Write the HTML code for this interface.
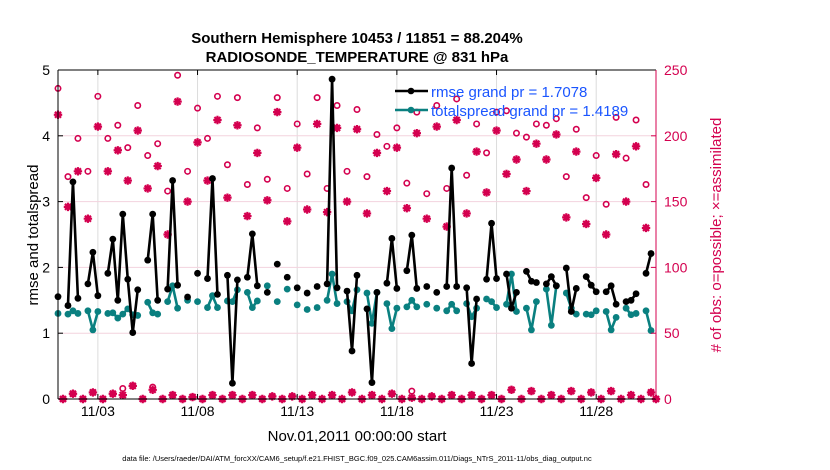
<!DOCTYPE html>
<html><head><meta charset="utf-8"><style>
html,body{margin:0;padding:0;background:#fff;}
svg{display:block;font-family:"Liberation Sans",sans-serif;}
</style></head><body>
<svg id="chart" width="830" height="470" viewBox="0 0 830 470">
<text x="357" y="43" text-anchor="middle" font-size="15" font-weight="bold">Southern Hemisphere 10453 / 11851 = 88.204%</text>
<text x="357" y="62" text-anchor="middle" font-size="15" font-weight="bold">RADIOSONDE_TEMPERATURE @ 831 hPa</text>
<g id="grid"></g>
<g id="counts"></g>
<g id="lines"></g>
<g id="axes"></g>
<text transform="translate(38,235) rotate(-90)" text-anchor="middle" font-size="15">rmse and totalspread</text>
<text transform="translate(721,235) rotate(-90)" text-anchor="middle" font-size="15" fill="#d4004f"># of obs: o=possible; ×=assimilated</text>
<text x="357" y="441" text-anchor="middle" font-size="15">Nov.01,2011 00:00:00 start</text>
<text x="357" y="461" text-anchor="middle" font-size="7.5">data file: /Users/raeder/DAI/ATM_forcXX/CAM6_setup/f.e21.FHIST_BGC.f09_025.CAM6assim.011/Diags_NTrS_2011-11/obs_diag_output.nc</text>
<g>
<line x1="395" y1="91" x2="428" y2="91" stroke="#000" stroke-width="2.5"/>
<circle cx="411" cy="91" r="3.3" fill="#000"/>
<text x="431" y="97" font-size="15" fill="#1a55ff">rmse grand pr = 1.7078</text>
<line x1="395" y1="110" x2="428" y2="110" stroke="#0a8080" stroke-width="2.5"/>
<circle cx="411" cy="110" r="3.3" fill="#0a8080"/>
<text x="431" y="116" font-size="15" fill="#1a55ff">totalspread grand pr = 1.4189</text>
</g>
</svg>
<script>
const xTickLabels = ["11/03","11/08","11/13","11/18","11/23","11/28"];
const xTickDays = [2,7,12,17,22,27];
const yTicks = [0,1,2,3,4,5];
const rTicks = [0,50,100,150,200,250];
const N = null;
const rmse = [1.555,N,1.42,3.30,1.53,N,1.75,2.23,1.57,N,1.91,2.43,1.50,2.81,1.82,1.01,1.66,N,2.11,2.81,1.50,N,1.67,3.32,1.73,N,1.55,N,1.91,N,
1.83,3.35,1.59,N,1.88,0.24,1.81,N,1.85,2.51,1.72,N,1.62,N,2.05,N,1.85,N,1.69,N,1.61,N,1.71,N,1.75,4.86,1.69,N,1.64,0.73,
1.88,N,1.37,0.25,1.62,N,1.76,2.44,1.68,N,1.95,2.49,1.68,N,1.71,N,1.62,N,1.71,3.51,1.71,N,1.69,0.54,1.52,N,1.82,2.67,1.83,N,
1.90,1.38,1.62,N,1.94,1.79,1.77,N,1.75,1.86,1.72,N,1.99,1.33,1.68,N,1.86,1.73,1.63,N,1.63,1.72,1.44,N,1.48,1.50,1.60,N,1.91,2.21,N];
const spread = [1.30,N,1.29,1.34,1.30,N,1.34,1.05,1.33,N,1.30,1.31,1.23,1.29,1.37,1.28,1.27,N,1.47,1.31,1.29,N,1.48,1.72,1.38,N,1.50,N,1.48,N,
1.39,1.57,1.39,N,1.49,1.48,1.66,N,1.62,1.39,1.49,N,1.72,N,1.48,N,1.67,N,1.43,N,1.36,N,1.39,N,1.50,1.90,1.45,N,1.48,1.34,
1.66,N,1.61,1.15,1.62,N,1.45,1.07,1.38,N,1.40,1.50,1.40,N,1.44,N,1.38,N,1.34,1.44,1.34,N,1.45,1.25,1.38,N,1.52,1.48,1.39,N,
1.44,1.90,1.33,N,1.38,1.05,1.48,N,1.67,1.12,1.72,N,1.61,1.38,1.29,N,1.29,1.28,1.34,N,1.33,1.05,1.24,N,1.38,1.28,1.30,N,1.34,1.04,N];
const possible = [236,0,169,4,198,0,173,5,230,0,198,4,208,8,191,10,223,0,185,9,194,0,158,3,246,0,173,1.5,221,0,
198,3,230,0,178,3,229,0,163,3,206,0,167,2,229,0,160,2,209,0,171,3,229,0,160,3,223,0,173,5,
220,0,169,3,201,0,192,4,206,0,164,6,218,0,156,2,223,0,160,3,228,0,170,3,209,0,187,3,218,0,
219,7,202,0,199,6,209,0,208,3,213,0,169,6,205,0,153,5,185,0,148,6,214,0,183,3,212,0,163,5,0];
const assimilated = [216,0,146,4,173,0,137,5,207,0,173,4,189,3,166,10,204,0,160,7,177,0,125,3,226,0,150,1.5,195,0,
166,3,212,0,153,3,208,0,139,3,187,0,151,2,218,0,135,2,191,0,144,3,209,0,142,3,206,0,150,5,
205,0,141,3,187,0,158,4,191,0,145,1,202,0,137,2,207,0,131,3,212,0,141,3,188,0,157,3,204,0,
171,7,182,0,158,6,194,0,182,3,201,0,138,6,188,0,133,5,168,0,125,6,186,0,150,3,192,0,130,5,0];
const stepDays = 0.25;

const NS="http://www.w3.org/2000/svg";
const X0=58, X1=656, Y0=399, Y1=70;
const x = d => X0 + d*(X1-X0)/30;
const yL = v => Y0 - v*(Y0-Y1)/5;
const yR = v => Y0 - v*(Y0-Y1)/250;
const PINK="#d4004f", TEAL="#0a8080";
function mk(tag, attrs, parent){const e=document.createElementNS(NS,tag);for(const k in attrs)e.setAttribute(k,attrs[k]);parent.appendChild(e);return e;}
const grid=document.getElementById('grid'), axes=document.getElementById('axes'), counts=document.getElementById('counts'), lines=document.getElementById('lines');

xTickDays.forEach((d,i)=>{
  const g=mk('line',{x1:x(d),x2:x(d),y1:Y1,y2:Y0,stroke:'#dcdcdc','stroke-width':1},grid);
  
  
  const t=mk('line',{x1:x(d),x2:x(d),y1:Y0,y2:Y0-5,stroke:'#000','stroke-width':1},axes);
  
  
  const t2=mk('line',{x1:x(d),x2:x(d),y1:Y1,y2:Y1+5,stroke:'#000','stroke-width':1},axes);
  
  
  const l=mk('text',{x:x(d),y:416,'text-anchor':'middle','font-size':14},axes);
  l.textContent=xTickLabels[i];
  
  
});
yTicks.forEach(v=>{
  if(v>0&&v<5){const g=mk('line',{x1:X0,x2:X1,y1:yL(v),y2:yL(v),stroke:'#f3d3de','stroke-width':1},grid);
  
  }
  const t=mk('line',{x1:X0,x2:X0+5,y1:yL(v),y2:yL(v),stroke:'#000'},axes);
  
  
  const l=mk('text',{x:X0-8,y:yL(v)+5,'text-anchor':'end','font-size':14},axes);
  l.textContent=v;
  
  
});
rTicks.forEach(v=>{
  const t=mk('line',{x1:X1,x2:X1-5,y1:yR(v),y2:yR(v),stroke:PINK},axes);
  
  
  const l=mk('text',{x:X1+8,y:yR(v)+5,'font-size':14,fill:PINK},axes);
  l.textContent=v;
  
  
});
const frame=[[X0,Y1,X1,Y1,'#000'],[X0,Y0,X1,Y0,'#000'],[X0,Y1,X0,Y0,'#000'],[X1,Y1,X1,Y0,PINK]];
frame.forEach(f=>{const a=mk('line',{x1:f[0],y1:f[1],x2:f[2],y2:f[3],stroke:f[4],'stroke-width':1},axes);
  
  });

// counts
possible.forEach((v,i)=>{
  if(v===null)return;
  const c=mk('circle',{cx:x(i*stepDays),cy:yR(v),r:2.7,fill:'none',stroke:PINK,'stroke-width':1.6},counts);
  
  
});
assimilated.forEach((v,i)=>{
  if(v===null)return;
  const cx=x(i*stepDays), cy=yR(v), s=4.2, d=s*0.72;
  const p=mk('path',{d:`M${cx-s},${cy}H${cx+s}M${cx},${cy-s}V${cy+s}M${cx-d},${cy-d}L${cx+d},${cy+d}M${cx-d},${cy+d}L${cx+d},${cy-d}`,stroke:PINK,'stroke-width':2.2,fill:'none'},counts);
  
  
});

function series(arr,color,name){
  let segs=[],cur=[];
  arr.forEach((v,i)=>{ if(v===null){if(cur.length)segs.push(cur);cur=[];} else cur.push([x(i*stepDays),yL(v)]); });
  if(cur.length)segs.push(cur);
  segs.forEach(s=>{ if(s.length>1){
    const pl=mk('polyline',{points:s.map(p=>p.join(',')).join(' '),fill:'none',stroke:color,'stroke-width':2.6,'stroke-linejoin':'round'},lines);
    
    }});
  arr.forEach((v,i)=>{ if(v===null)return;
    const c=mk('circle',{cx:x(i*stepDays),cy:yL(v),r:3.4,fill:color},lines);
    
    });
}
series(spread,TEAL,'totalspread');
series(rmse,'#000','rmse');
</script>
</body></html>
